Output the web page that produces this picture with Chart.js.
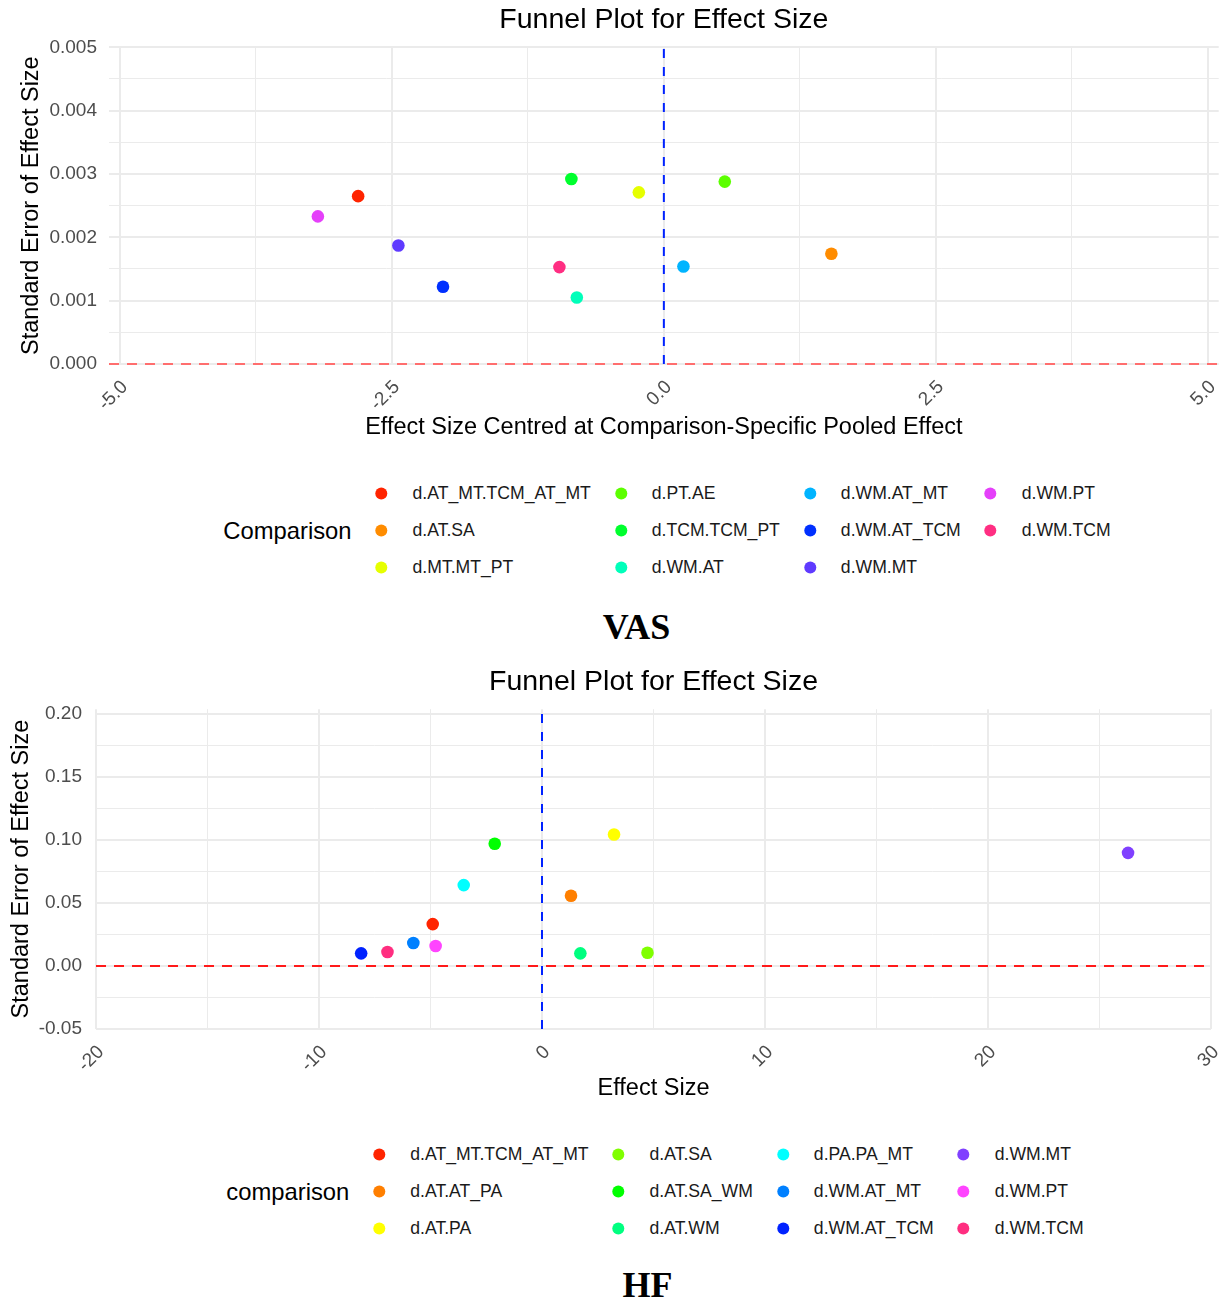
<!DOCTYPE html>
<html>
<head>
<meta charset="utf-8">
<title>Funnel plots</title>
<script src="https://cdn.jsdelivr.net/npm/chart.js@4.4.1/dist/chart.umd.min.js"></script>
<style>
  body { margin: 0; background: #fff; font-family: 'Liberation Sans', Arial, sans-serif; }
  #page { position: relative; width: 1225px; height: 1301px; overflow: hidden; }
  .box { position: absolute; left: 0; width: 1225px; height: 450px; }
  .legend { position: absolute; display: flex; align-items: center; transform: translate(-50%, -50%); white-space: nowrap; }
  .legend .ttl { font-size: 23.8px; color: #000; margin-right: 24px; }
  .legend .grid { display: grid; grid-auto-flow: column; grid-template-rows: repeat(3, 37px); column-gap: 24px; }
  .item { display: flex; align-items: center; font-size: 17.6px; color: #1a1a1a; }
  .dot { width: 12px; height: 12px; border-radius: 50%; margin-right: 25px; flex: none; }
  .cap { position: absolute; font-family: 'Liberation Serif', 'Times New Roman', serif; font-weight: bold; font-size: 36px; transform: translate(-50%, -50%); }
</style>
</head>
<body>
<div id="page">
  <div class="box" style="top:0"><canvas id="vasChart"></canvas></div>
  <div class="legend" id="vasLegend" style="left:667px; top:530px"></div>
  <div class="cap" style="left:636.5px; top:627px">VAS</div>

  <div class="box" style="top:660px"><canvas id="hfChart"></canvas></div>
  <div class="legend" id="hfLegend" style="left:655px; top:1191px"></div>
  <div class="cap" style="left:647.5px; top:1285px">HF</div>
</div>
<script>
// ---- VAS data ----
const vasComparisons = ['d.AT_MT.TCM_AT_MT', 'd.AT.SA', 'd.MT.MT_PT', 'd.PT.AE', 'd.TCM.TCM_PT', 'd.WM.AT',
                        'd.WM.AT_MT', 'd.WM.AT_TCM', 'd.WM.MT', 'd.WM.PT', 'd.WM.TCM'];
const vasColors = ['#FF2400', '#FF8C00', '#E6FF00', '#5CFF00', '#00FF2E', '#00FFBA',
                   '#00B4FF', '#0030FF', '#5F3AFF', '#E540FA', '#FF2E82'];
const vasEffect = [-2.81, 1.54, -0.23, 0.56, -0.85, -0.80, 0.18, -2.03, -2.44, -3.18, -0.96];
const vasSE = [0.00265, 0.00174, 0.00271, 0.00288, 0.00292, 0.00105, 0.00154, 0.00122, 0.00187, 0.00233, 0.00153];
const vasXMajor = [-5, -2.5, 0, 2.5, 5];
const vasXMinor = [-3.75, -1.25, 1.25, 3.75];
const vasYMajor = [0, 0.001, 0.002, 0.003, 0.004, 0.005];
const vasYMinor = [0.0005, 0.0015, 0.0025, 0.0035, 0.0045];

// ---- HF data ----
const hfComparisons = ['d.AT_MT.TCM_AT_MT', 'd.AT.AT_PA', 'd.AT.PA', 'd.AT.SA', 'd.AT.SA_WM', 'd.AT.WM',
                       'd.PA.PA_MT', 'd.WM.AT_MT', 'd.WM.AT_TCM', 'd.WM.MT', 'd.WM.PT', 'd.WM.TCM'];
const hfColors = ['#FF2400', '#FF7F00', '#FFFF00', '#80FF00', '#00FF00', '#00FF80',
                  '#00FFFF', '#0080FF', '#0022FF', '#8040FF', '#FF44FF', '#FF2E80'];
const hfEffect = [-4.90, 1.30, 3.23, 4.73, -2.12, 1.72, -3.51, -5.77, -8.11, 26.28, -4.77, -6.93];
const hfSE = [0.0333, 0.0558, 0.1045, 0.0106, 0.0971, 0.0101, 0.0643, 0.0183, 0.0101, 0.0899, 0.0159, 0.0111];
const hfXMajor = [-20, -10, 0, 10, 20, 30];
const hfXMinor = [-15, -5, 5, 15, 25];
const hfYMajor = [-0.05, 0, 0.05, 0.10, 0.15, 0.20];
const hfYMinor = [-0.025, 0.025, 0.075, 0.125, 0.175];

Chart.defaults.font.family = "'Liberation Sans', Arial, sans-serif";
Chart.defaults.animation = false;

function buildLegend(id, title, labels, colors) {
    const el = document.getElementById(id);
    const ttl = document.createElement('div');
    ttl.className = 'ttl';
    ttl.textContent = title;
    el.appendChild(ttl);
    const grid = document.createElement('div');
    grid.className = 'grid';
    labels.forEach((lab, i) => {
        const item = document.createElement('div');
        item.className = 'item';
        const dot = document.createElement('span');
        dot.className = 'dot';
        dot.style.background = colors[i];
        item.appendChild(dot);
        item.appendChild(document.createTextNode(lab));
        grid.appendChild(item);
    });
    el.appendChild(grid);
}

function funnelChart(canvasId, o) {
    const datasets = o.labels.map((lab, i) => ({
        type: 'scatter',
        label: lab,
        data: [{ x: o.xs[i], y: o.ys[i] }],
        backgroundColor: o.colors[i],
        borderWidth: 0,
        pointRadius: 6.3,
        order: 0
    }));
    // reference lines (not clipped, so the one on the panel edge keeps its full width)
    datasets.push({
        type: 'line', label: 'zeroSE',
        data: [{ x: o.xMin, y: 0 }, { x: o.xMax, y: 0 }],
        borderColor: o.hColor, borderWidth: 2, borderDash: [10, 8],
        pointRadius: 0, order: 1, clip: false
    });
    datasets.push({
        type: 'line', label: 'zeroEffect',
        data: [{ x: 0, y: o.yMin }, { x: 0, y: o.yMax }],
        borderColor: '#0022FF', borderWidth: 2, borderDash: [9, 9],
        pointRadius: 0, order: 1, clip: false
    });

    const xTicks = o.xMajor.concat(o.xMinor).sort((a, b) => a - b);
    const yTicks = o.yMajor.concat(o.yMinor).sort((a, b) => a - b);

    return new Chart(document.getElementById(canvasId), {
        type: 'scatter',
        data: { datasets },
        options: {
            responsive: true,
            maintainAspectRatio: false,
            layout: { padding: { left: 0, right: o.padRight, top: 0, bottom: o.padBottom } },
            plugins: {
                legend: { display: false },
                tooltip: { enabled: false },
                title: {
                    display: true,
                    text: 'Funnel Plot for Effect Size',
                    fullSize: false,
                    color: '#000',
                    font: { size: 28.5, weight: 'normal' },
                    padding: { top: o.titleTop, bottom: o.titleBottom }
                }
            },
            scales: {
                x: {
                    type: 'linear',
                    min: o.xMin,
                    max: o.xMax,
                    afterBuildTicks: s => { s.ticks = xTicks.map(v => ({ value: v })); },
                    afterFit: s => { s.height = o.xAxisH; s.paddingLeft = 0; s.paddingRight = 0; },
                    border: { display: false },
                    grid: {
                        color: '#EBEBEB',
                        drawTicks: false,
                        lineWidth: c => (c.tick && o.xMajor.includes(c.tick.value)) ? 2 : 1
                    },
                    ticks: {
                        autoSkip: false,
                        minRotation: 45,
                        maxRotation: 45,
                        padding: 12,
                        labelOffset: 5,
                        color: '#4D4D4D',
                        font: { size: 19 },
                        callback: v => o.xMajor.includes(v) ? o.xFmt(v) : ''
                    },
                    title: {
                        display: true,
                        text: o.xTitle,
                        color: '#000',
                        font: { size: 23.5 },
                        padding: { top: 0, bottom: 0 }
                    }
                },
                y: {
                    type: 'linear',
                    min: o.yMin,
                    max: o.yMax,
                    afterBuildTicks: s => { s.ticks = yTicks.map(v => ({ value: v })); },
                    afterFit: s => { s.width = o.yAxisW; s.paddingTop = 0; s.paddingBottom = 0; },
                    border: { display: false },
                    grid: {
                        color: '#EBEBEB',
                        drawTicks: false,
                        lineWidth: c => (c.tick && o.yMajor.includes(c.tick.value)) ? 2 : 1
                    },
                    ticks: {
                        padding: o.yTickPad,
                        color: '#4D4D4D',
                        font: { size: 19 },
                        callback: v => o.yMajor.includes(v) ? o.yFmt(v) : ''
                    },
                    title: {
                        display: true,
                        text: 'Standard Error of Effect Size',
                        color: '#000',
                        font: { size: 23.5 },
                        padding: { top: o.yTitlePad, bottom: 0 }
                    }
                }
            }
        }
    });
}

funnelChart('vasChart', {
    labels: vasComparisons, colors: vasColors, xs: vasEffect, ys: vasSE,
    xMin: -5.1, xMax: 5.1, yMin: 0, yMax: 0.005,
    xMajor: vasXMajor, xMinor: vasXMinor, yMajor: vasYMajor, yMinor: vasYMinor,
    xFmt: v => v.toFixed(1), yFmt: v => v.toFixed(3),
    xTitle: 'Effect Size Centred at Comparison-Specific Pooled Effect',
    hColor: '#FF6E6E',
    padRight: -2, padBottom: 8, titleTop: 3.5, titleBottom: 9.6,
    xAxisH: 78, yAxisW: 109, yTickPad: 12, yTitlePad: 17
});

funnelChart('hfChart', {
    labels: hfComparisons, colors: hfColors, xs: hfEffect, ys: hfSE,
    xMin: -20, xMax: 30, yMin: -0.05, yMax: 0.204,
    xMajor: hfXMajor, xMinor: hfXMinor, yMajor: hfYMajor, yMinor: hfYMinor,
    xFmt: v => String(v), yFmt: v => v.toFixed(2),
    xTitle: 'Effect Size',
    hColor: '#FF1A1A',
    padRight: 14, padBottom: 7, titleTop: 5, titleBottom: 10,
    xAxisH: 74, yAxisW: 96, yTickPad: 14, yTitlePad: 7
});

buildLegend('vasLegend', 'Comparison', vasComparisons, vasColors);
buildLegend('hfLegend', 'comparison', hfComparisons, hfColors);
</script>
</body>
</html>
